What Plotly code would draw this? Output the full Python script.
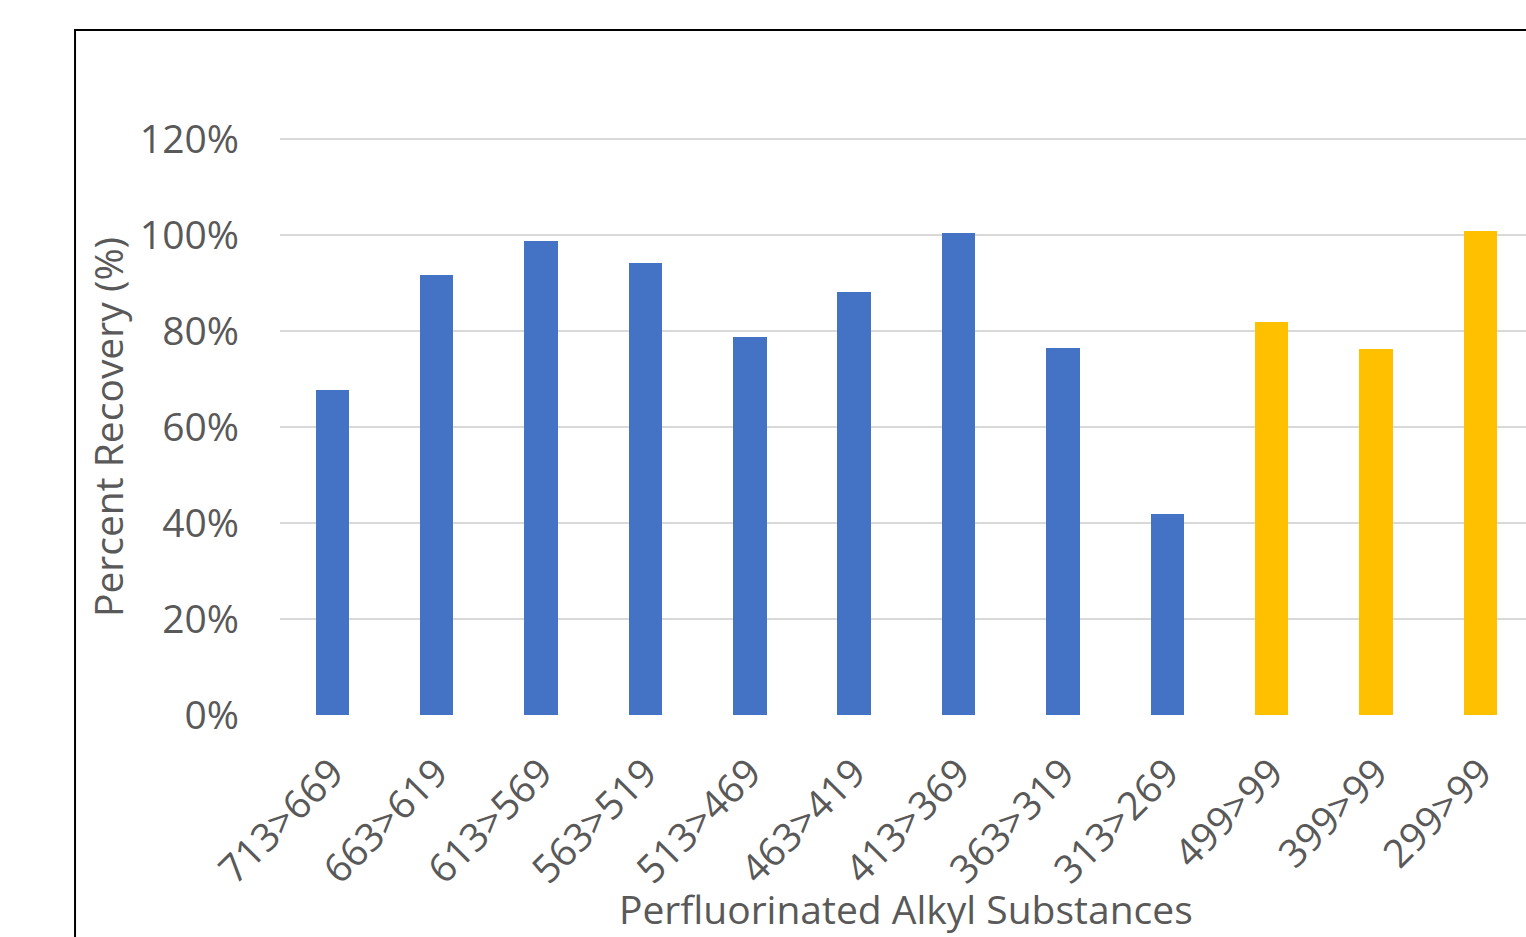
import plotly.graph_objects as go

categories = ["713>669", "663>619", "613>569", "563>519", "513>469", "463>419",
              "413>369", "363>319", "313>269", "499>99", "399>99", "299>99"]
recovery = [0.677, 0.917, 0.988, 0.942, 0.788, 0.881, 1.004, 0.765, 0.419, 0.819, 0.763, 1.008]
bar_colors = ["#4472C4"] * 9 + ["#FFC000"] * 3
y_ticks = [0, 0.2, 0.4, 0.6, 0.8, 1.0, 1.2]
x_title = "Perfluorinated Alkyl Substances"
y_title = "Percent Recovery (%)"

FONT = "Open Sans"
GRAY = "#595959"
FS = 39

fig = go.Figure(go.Bar(
    x=list(range(len(categories))), y=recovery,
    marker=dict(color=bar_colors, line=dict(width=0)),
    width=0.32,
))

fig.update_layout(
    width=1526, height=937,
    margin=dict(l=280, r=0, t=60, b=222, autoexpand=False),
    paper_bgcolor="white", plot_bgcolor="white",
    showlegend=False,
    font=dict(family=FONT, color=GRAY, size=FS),
    bargap=0,
)
fig.update_xaxes(
    range=[-0.5, 11.435], autorange=False,
    tickmode="array", tickvals=list(range(len(categories))), ticktext=categories,
    tickangle=-45, tickfont=dict(size=FS, color=GRAY),
    showgrid=False, zeroline=False, showline=False,
    ticks="", ticklabelstandoff=26,
)
fig.update_yaxes(
    range=[0, 1.3646], autorange=False,
    tickmode="array", tickvals=y_ticks, tickformat=".0%",
    tickfont=dict(size=FS, color=GRAY),
    showgrid=True, gridcolor="#D9D9D9", gridwidth=2,
    zeroline=False, showline=False, ticks="", ticklabelstandoff=40,
)
fig.add_annotation(text=y_title, xref="paper", yref="paper", x=-0.138, y=0.4397,
                   xanchor="center", yanchor="middle", textangle=-90, showarrow=False,
                   font=dict(size=FS, color=GRAY, family=FONT))
fig.add_annotation(text=x_title, xref="paper", yref="paper", x=0.5024, y=-0.2947,
                   xanchor="center", yanchor="middle", showarrow=False,
                   font=dict(size=FS, color=GRAY, family=FONT))
fig.add_shape(type="rect", xref="paper", yref="paper",
              x0=-0.1645, x1=1.1, y0=-0.6, y1=1.0458,
              line=dict(color="black", width=2), fillcolor="rgba(0,0,0,0)", layer="above")

fig.write_html("out.html")
